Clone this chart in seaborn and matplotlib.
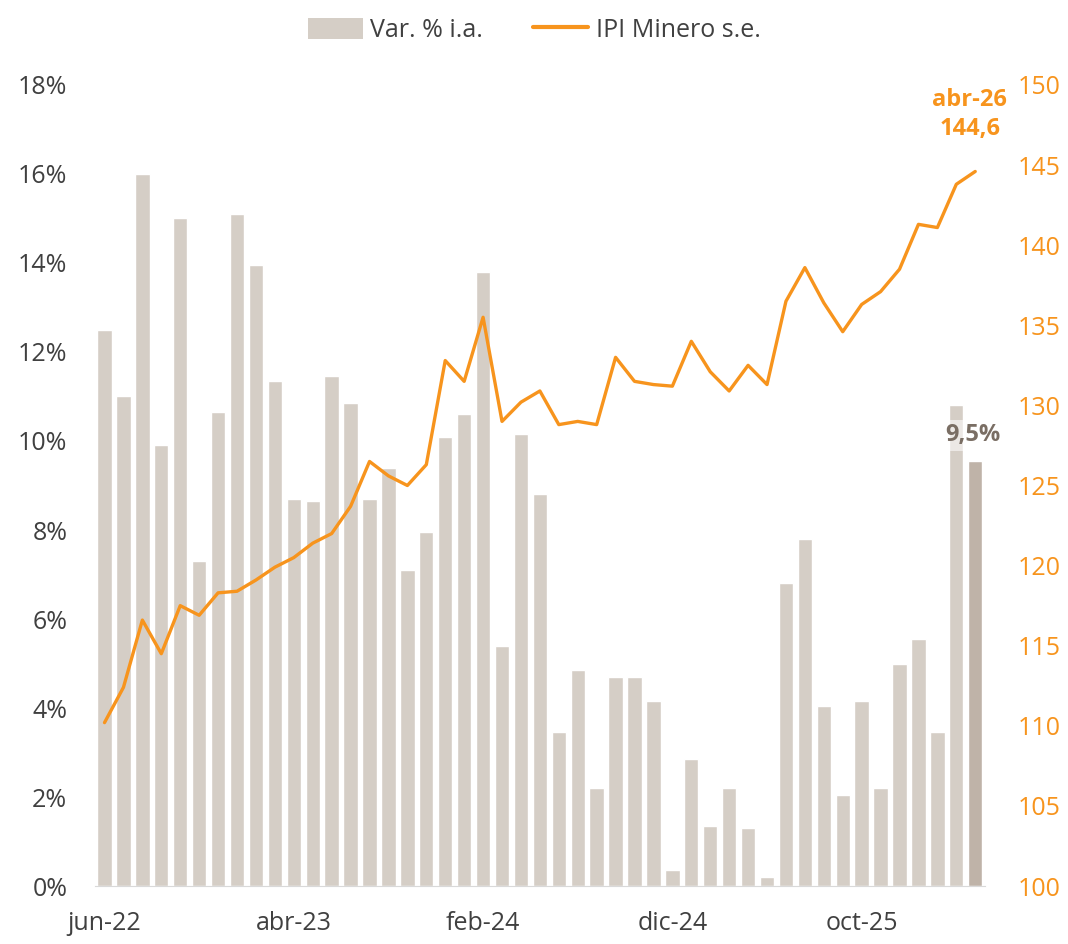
import matplotlib.pyplot as plt
import numpy as np
import pandas as pd
import seaborn as sns
from matplotlib.patches import Patch
from matplotlib.lines import Line2D

# Monthly data, jun-22 .. abr-26
months = ['jun-22', 'jul-22', 'ago-22', 'sep-22', 'oct-22', 'nov-22', 'dic-22',
          'ene-23', 'feb-23', 'mar-23', 'abr-23', 'may-23', 'jun-23', 'jul-23',
          'ago-23', 'sep-23', 'oct-23', 'nov-23', 'dic-23',
          'ene-24', 'feb-24', 'mar-24', 'abr-24', 'may-24', 'jun-24', 'jul-24',
          'ago-24', 'sep-24', 'oct-24', 'nov-24', 'dic-24',
          'ene-25', 'feb-25', 'mar-25', 'abr-25', 'may-25', 'jun-25', 'jul-25',
          'ago-25', 'sep-25', 'oct-25', 'nov-25', 'dic-25',
          'ene-26', 'feb-26', 'mar-26', 'abr-26']

var_ia = [12.5, 11.0, 16.0, 9.9, 15.0, 7.3, 10.65,
          15.1, 13.95, 11.35, 8.7, 8.65, 11.45, 10.85,
          8.7, 9.4, 7.1, 7.95, 10.1,
          10.6, 13.8, 5.4, 10.15, 8.8, 3.45, 4.85,
          2.2, 4.7, 4.7, 4.15, 0.35,
          2.85, 1.35, 2.2, 1.3, 0.2, 6.8, 7.8,
          4.05, 2.05, 4.15, 2.2, 5.0,
          5.55, 3.45, 10.8, 9.55]

ipi = [110.2, 112.4, 116.6, 114.5, 117.5, 116.9, 118.3,
       118.4, 119.1, 119.9, 120.5, 121.4, 122.0, 123.7,
       126.5, 125.6, 125.0, 126.3, 132.8,
       131.5, 135.5, 129.0, 130.2, 130.9, 128.8, 129.0,
       128.8, 133.0, 131.5, 131.3, 131.2,
       134.0, 132.1, 130.9, 132.5, 131.3, 136.5, 138.6,
       136.4, 134.6, 136.3, 137.1, 138.5,
       141.3, 141.1, 143.8, 144.6]

tick_labels = ['jun-22', 'abr-23', 'feb-24', 'dic-24', 'oct-25']

df = pd.DataFrame({'mes': months, 'var': var_ia, 'ipi': ipi})
df['pos'] = np.arange(len(df))

bar_color = '#D5CEC6'
last_bar_color = '#BFB3A8'
line_color = '#F7941D'

sns.set_style('white')
plt.rcParams['font.family'] = ['Open Sans', 'DejaVu Sans']

fig = plt.figure(figsize=(10.68, 9.44), dpi=100)
ax = fig.add_axes([0.089, 0.0614, 0.833, 0.8486])

sns.barplot(data=df, x='mes', y='var', color=bar_color, width=0.76,
            saturation=1, ax=ax)
ax.patches[-1].set_facecolor(last_bar_color)

ax.set_ylim(0, 18)
ax.set_yticks(np.arange(0, 19, 2))
ax.set_yticklabels([f'{v}%' for v in range(0, 19, 2)])
ax.set_xlim(-0.5, len(df) - 0.5)
ax.set_xticks([months.index(m) for m in tick_labels])
ax.set_xticklabels(tick_labels)
ax.set_xlabel('')
ax.set_ylabel('')
ax.tick_params(axis='both', length=0, labelsize=18, colors='#404040')
ax.tick_params(axis='y', pad=20)
ax.tick_params(axis='x', pad=18)
for s in ['top', 'right', 'left']:
    ax.spines[s].set_visible(False)
ax.spines['bottom'].set_color('#D9D9D9')

ax2 = ax.twinx()
sns.lineplot(data=df, x='pos', y='ipi', color=line_color, linewidth=2.4, ax=ax2)
ax2.set_ylim(100, 150)
ax2.set_yticks(np.arange(100, 151, 5))
ax2.set_ylabel('')
ax2.tick_params(axis='y', length=0, labelsize=18, colors=line_color, pad=24)
for s in ['top', 'right', 'left', 'bottom']:
    ax2.spines[s].set_visible(False)

# Annotations
n = len(df) - 1
ax2.annotate(f"{months[-1]}\n{str(ipi[-1]).replace('.', ',')}",
             xy=(n, ipi[-1]), xytext=(-4, 22), textcoords='offset points',
             ha='center', va='bottom', fontsize=17, fontweight='bold',
             color=line_color, linespacing=1.3)
ax.annotate('9,5%', xy=(n, var_ia[-1]), xytext=(-2, 10), textcoords='offset points',
            ha='center', va='bottom', fontsize=17, fontweight='bold', color='#7A6E64',
            bbox=dict(boxstyle='square,pad=0.15', fc='white', ec='none', alpha=0.55))

# Legend
handles = [Patch(facecolor=bar_color, edgecolor='none', label='Var. % i.a.'),
           Line2D([0], [0], color=line_color, lw=3, label='IPI Minero s.e.')]
fig.legend(handles=handles, loc='upper center', bbox_to_anchor=(0.5, 1.005), ncol=2,
           frameon=False, fontsize=18, handlelength=2.2, handleheight=0.9,
           columnspacing=2.0, handletextpad=0.3, labelcolor='#404040')

fig.savefig('out.png', dpi=100)
